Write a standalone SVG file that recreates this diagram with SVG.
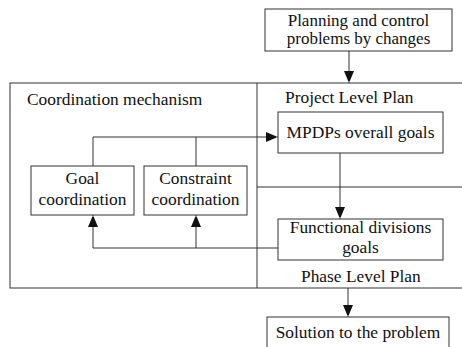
<svg xmlns="http://www.w3.org/2000/svg" width="462" height="347" viewBox="0 0 462 347">
<defs>
<marker id="ah" markerWidth="10" markerHeight="12" refX="12" refY="5" orient="auto" markerUnits="userSpaceOnUse">
<path d="M0,0 L12,5 L0,10 Z" fill="#111"/>
</marker>
<style>
.b{fill:#fff;stroke:#333;stroke-width:1}
.l{fill:none;stroke:#333;stroke-width:1}
text{font-family:"Liberation Serif","Times New Roman",serif;font-size:17.4px;fill:#111}
.c{text-anchor:middle}
.s{font-size:17px}
</style>
</defs>
<g id="frame">
<rect class="l" x="10" y="83" width="470" height="205"/>
<line class="l" x1="257" y1="83" x2="257" y2="288"/>
<line class="l" x1="257" y1="187" x2="462" y2="187"/>
<text x="27" y="105">Coordination mechanism</text>
<text x="285" y="103">Project Level Plan</text>
<text x="301" y="282">Phase Level Plan</text>
</g>
<g id="connectors">
<line class="l" x1="349" y1="51" x2="349" y2="83" marker-end="url(#ah)"/>
<polyline class="l" points="93,166 93,137 278,137" marker-end="url(#ah)"/>
<line class="l" x1="196" y1="137" x2="196" y2="166"/>
<line class="l" x1="340" y1="153" x2="340" y2="219" marker-end="url(#ah)"/>
<line class="l" x1="278" y1="248" x2="93" y2="248"/>
<line class="l" x1="93" y1="248" x2="93" y2="215" marker-end="url(#ah)"/>
<line class="l" x1="196" y1="248" x2="196" y2="215" marker-end="url(#ah)"/>
<line class="l" x1="348" y1="288" x2="348" y2="317" marker-end="url(#ah)"/>
</g>
<g id="n-planning">
<rect class="b" x="265" y="9" width="187" height="42"/>
<text class="c s" x="358.5" y="25.5">Planning and control</text>
<text class="c s" x="358.5" y="44">problems by changes</text>
</g>
<g id="n-mpdps">
<rect class="b" x="278" y="112" width="165" height="41"/>
<text class="c" x="360.5" y="138">MPDPs overall goals</text>
</g>
<g id="n-goal">
<rect class="b" x="31" y="166" width="103" height="49"/>
<text class="c" x="82.5" y="184">Goal</text>
<text class="c" x="82.5" y="205">coordination</text>
</g>
<g id="n-constraint">
<rect class="b" x="144" y="166" width="103" height="49"/>
<text class="c" x="195.5" y="184">Constraint</text>
<text class="c" x="195.5" y="205">coordination</text>
</g>
<g id="n-functional">
<rect class="b" x="278" y="219" width="165" height="41"/>
<text class="c" x="360.5" y="233">Functional divisions</text>
<text class="c" x="360.5" y="253">goals</text>
</g>
<g id="n-solution">
<rect class="b" x="267" y="317" width="182" height="40"/>
<text class="c" x="358" y="338">Solution to the problem</text>
</g>
</svg>
